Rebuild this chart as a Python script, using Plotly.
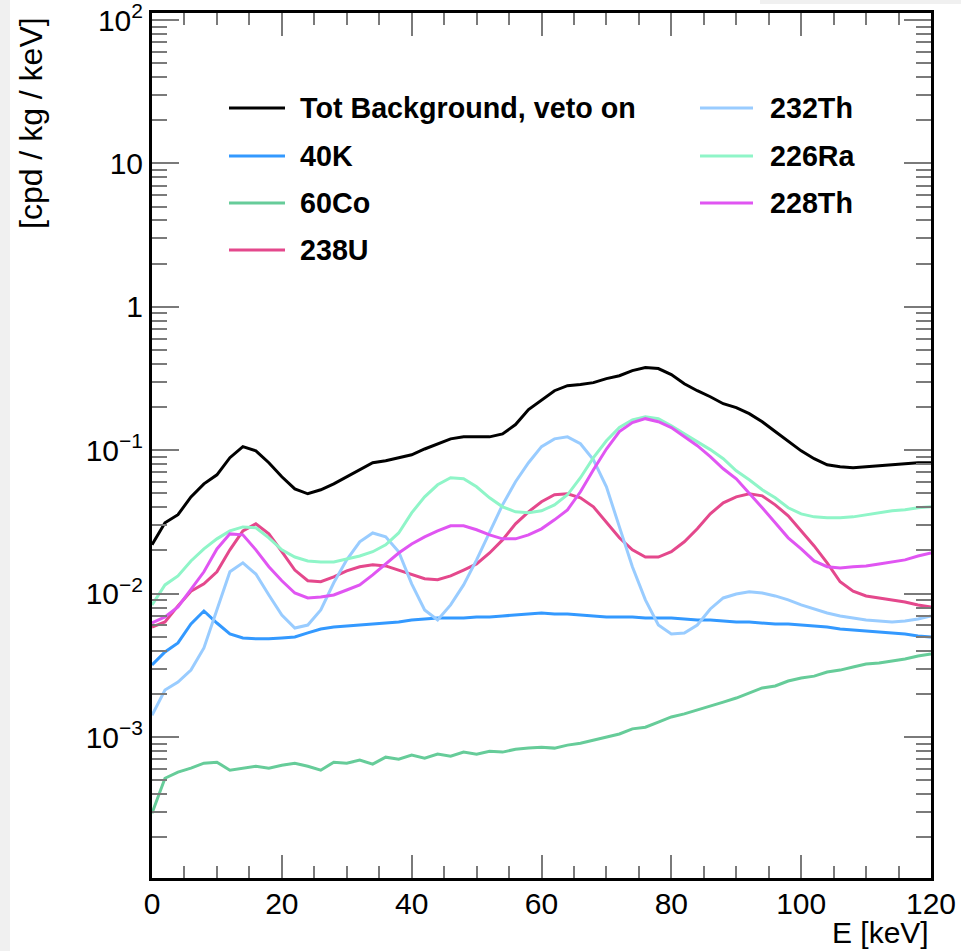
import plotly.graph_objects as go

# ---------------- data ----------------
energy_keV = [0, 2, 4, 6, 8, 10, 12, 14, 16, 18, 20, 22, 24, 26, 28, 30, 32, 34, 36, 38,
              40, 42, 44, 46, 48, 50, 52, 54, 56, 58, 60, 62, 64, 66, 68, 70, 72, 74, 76, 78,
              80, 82, 84, 86, 88, 90, 92, 94, 96, 98, 100, 102, 104, 106, 108, 110, 112, 114,
              116, 118, 120]

tot_bkg = [0.0219, 0.0312, 0.0355, 0.0473, 0.0583, 0.0674, 0.0887, 0.106, 0.099, 0.0818,
           0.0653, 0.0538, 0.0497, 0.053, 0.0583, 0.0653, 0.0731, 0.0818, 0.0845, 0.0887,
           0.093, 0.102, 0.111, 0.120, 0.124, 0.124, 0.124, 0.130, 0.151, 0.192,
           0.222, 0.260, 0.282, 0.287, 0.296, 0.316, 0.331, 0.359, 0.377, 0.371,
           0.337, 0.291, 0.260, 0.236, 0.211, 0.198, 0.180, 0.158, 0.135, 0.115,
           0.099, 0.0873, 0.0792, 0.0767, 0.0755, 0.0767, 0.078, 0.0792, 0.0806, 0.0818,
           0.0818]

k40 = [0.00318, 0.00392, 0.00453, 0.00614, 0.00757, 0.00624, 0.00523, 0.00491, 0.00484, 0.00484,
       0.00491, 0.00499, 0.00532, 0.00567, 0.00585, 0.00594, 0.00604, 0.00614, 0.00624, 0.00634,
       0.00655, 0.00666, 0.00676, 0.00676, 0.00676, 0.00688, 0.00688, 0.00699, 0.0071, 0.00722,
       0.00733, 0.00722, 0.00722, 0.0071, 0.00699, 0.00688, 0.00688, 0.00688, 0.00676, 0.00676,
       0.00676, 0.00666, 0.00655, 0.00655, 0.00645, 0.00634, 0.00634, 0.00624, 0.00614, 0.00614,
       0.00604, 0.00594, 0.00585, 0.00567, 0.00558, 0.00549, 0.0054, 0.00532, 0.00523, 0.00507,
       0.00499]

co60 = [0.000294, 0.000516, 0.000569, 0.000607, 0.000657, 0.000668, 0.000587, 0.000607, 0.000626, 0.000607,
        0.000636, 0.000657, 0.000626, 0.000587, 0.000668, 0.000657, 0.00069, 0.000647, 0.000724, 0.000701,
        0.000748, 0.000712, 0.00076, 0.000736, 0.000785, 0.00076, 0.000797, 0.000785, 0.000823, 0.000837,
        0.00085, 0.000837, 0.000878, 0.000906, 0.000951, 0.001, 0.00105, 0.00114, 0.00117, 0.00127,
        0.00138, 0.00145, 0.00154, 0.00164, 0.00175, 0.00187, 0.00203, 0.0022, 0.00227, 0.00246,
        0.00258, 0.00266, 0.00284, 0.00293, 0.00308, 0.00323, 0.00328, 0.00339, 0.0035, 0.00367,
        0.00379]

u238 = [0.00585, 0.00634, 0.00821, 0.0104, 0.0117, 0.0142, 0.0202, 0.0274, 0.0307, 0.0261,
        0.0196, 0.0146, 0.0123, 0.0121, 0.0131, 0.0144, 0.0154, 0.0159, 0.0156, 0.0146,
        0.0135, 0.0127, 0.0125, 0.0133, 0.0146, 0.0161, 0.0192, 0.0237, 0.0307, 0.0372,
        0.0437, 0.0489, 0.0497, 0.0466, 0.0403, 0.0317, 0.0245, 0.0202, 0.018, 0.018,
        0.0196, 0.023, 0.0283, 0.036, 0.043, 0.0473, 0.0497, 0.0481, 0.0416, 0.0349,
        0.0274, 0.0215, 0.0164, 0.0121, 0.0104, 0.00964, 0.00933, 0.00904, 0.00875, 0.00834,
        0.00807]

th232 = [0.00142, 0.00213, 0.00242, 0.00293, 0.00418, 0.00769, 0.0142, 0.0164, 0.0137, 0.00979,
         0.0071, 0.00576, 0.00604, 0.00769, 0.0119, 0.0172, 0.023, 0.0265, 0.0249, 0.0196,
         0.0117, 0.00769, 0.00655, 0.00834, 0.0115, 0.0172, 0.027, 0.0416, 0.0603, 0.0818,
         0.106, 0.120, 0.124, 0.111, 0.0858, 0.0556, 0.0292, 0.0154, 0.00904, 0.00604,
         0.00523, 0.00532, 0.00604, 0.00782, 0.00933, 0.00995, 0.0103, 0.0101, 0.00964, 0.00904,
         0.00834, 0.00782, 0.00733, 0.00699, 0.00676, 0.00655, 0.00645, 0.00634, 0.00645, 0.00666,
         0.00699]

ra226 = [0.00834, 0.0115, 0.0133, 0.0169, 0.0205, 0.0241, 0.0274, 0.0292, 0.0288, 0.0245,
         0.0202, 0.018, 0.0169, 0.0166, 0.0166, 0.0175, 0.0183, 0.0196, 0.0219, 0.0265,
         0.0366, 0.0473, 0.0574, 0.0643, 0.0632, 0.0556, 0.0466, 0.0403, 0.0372, 0.0366,
         0.0378, 0.0416, 0.0489, 0.0643, 0.0887, 0.1165, 0.144, 0.163, 0.171, 0.166,
         0.148, 0.130, 0.115, 0.101, 0.0873, 0.0719, 0.0622, 0.053, 0.0466, 0.0397,
         0.036, 0.0343, 0.0338, 0.0338, 0.0343, 0.0355, 0.0366, 0.0378, 0.0384, 0.0397,
         0.0403]

th228 = [0.00624, 0.00688, 0.00807, 0.0108, 0.0142, 0.0205, 0.0261, 0.0257, 0.0202, 0.0154,
         0.0123, 0.0101, 0.00933, 0.00948, 0.00979, 0.0106, 0.0115, 0.0135, 0.0161, 0.0192,
         0.0222, 0.0249, 0.0274, 0.0297, 0.0297, 0.0279, 0.0257, 0.0241, 0.0241, 0.0257,
         0.0283, 0.0327, 0.0384, 0.0513, 0.0731, 0.102, 0.135, 0.156, 0.166, 0.158,
         0.144, 0.124, 0.1075, 0.0901, 0.0743, 0.0632, 0.0505, 0.0397, 0.0312, 0.0245,
         0.0205, 0.0169, 0.0154, 0.0151, 0.0154, 0.0156, 0.0161, 0.0166, 0.0172, 0.0183,
         0.0192]

series_names = ["Tot Background, veto on", "40K", "60Co", "238U", "232Th", "226Ra", "228Th"]
series_values = [tot_bkg, k40, co60, u238, th232, ra226, th228]
series_colors = ["#000000", "#3399ff", "#66cc99", "#e4488c", "#99ccff", "#8ff5c8", "#e055f2"]

x_tick_vals = [0, 20, 40, 60, 80, 100, 120]
x_tick_text = ["0", "20", "40", "60", "80", "100", "120"]
y_tick_vals = [100, 10, 1, 0.1, 0.01, 0.001]
y_tick_text = ["10<sup>2</sup>", "10", "1", "10<sup>\u22121</sup>", "10<sup>\u22122</sup>", "10<sup>\u22123</sup>"]

# ---------------- layout geometry (pixels) ----------------
W, H = 961, 951
L, R, T, B = 152, 30, 13, 73
PW, PH = W - L - R, H - T - B
Y_RANGE = [-3.983, 2.049]


def px_x(px):
    return (px - L) / PW


def px_y(py):
    return (H - B - py) / PH


FONT = "Liberation Sans, Arial, Helvetica, sans-serif"

fig = go.Figure()
for name, vals, col in zip(series_names, series_values, series_colors):
    fig.add_trace(go.Scatter(x=energy_keV, y=vals, mode="lines", name=name,
                             line=dict(color=col, width=3), showlegend=False))

minor_y = []
for e in range(-4, 2):
    for k in range(2, 10):
        v = k * 10.0 ** e
        if 10 ** Y_RANGE[0] <= v <= 10 ** Y_RANGE[1]:
            minor_y.append(v)

tick_gray = "#7a7a7a"
fig.update_layout(
    width=W, height=H,
    margin=dict(l=L, r=R, t=T, b=B, pad=0, autoexpand=False),
    paper_bgcolor="white", plot_bgcolor="white",
    font=dict(family=FONT, color="black"),
    xaxis=dict(range=[0, 120], showgrid=False, zeroline=False, automargin=False,
               showline=True, linecolor="black", linewidth=3, mirror="ticks",
               ticks="inside", ticklen=23, tickwidth=2, tickcolor=tick_gray,
               tickmode="array", tickvals=x_tick_vals, ticktext=x_tick_text,
               tickfont=dict(size=30, family=FONT), ticklabelstandoff=-3,
               ticklabeloverflow="allow",
               minor=dict(ticks="inside", ticklen=12, tickwidth=2, tickcolor=tick_gray,
                          dtick=5, tick0=0, showgrid=False)),
    yaxis=dict(type="log", range=Y_RANGE, showgrid=False, zeroline=False, automargin=False,
               showline=True, linecolor="black", linewidth=3, mirror="ticks",
               ticks="inside", ticklen=27, tickwidth=2, tickcolor=tick_gray,
               tickmode="array", tickvals=y_tick_vals, ticktext=y_tick_text,
               tickfont=dict(size=30, family=FONT), ticklabeloverflow="allow",
               minor=dict(ticks="inside", ticklen=15, tickwidth=2, tickcolor=tick_gray,
                          tickmode="array", tickvals=minor_y, showgrid=False)),
)

shapes = []
annotations = []
# page background strips seen at the edges of the reference
shapes.append(dict(type="rect", xref="paper", yref="paper", layer="below",
                   x0=px_x(0), x1=px_x(10), y0=px_y(H), y1=px_y(0),
                   fillcolor="#f0f0f0", line=dict(width=0)))
shapes.append(dict(type="rect", xref="paper", yref="paper", layer="below",
                   x0=px_x(760), x1=px_x(W), y0=px_y(4), y1=px_y(0),
                   fillcolor="#f0f0f0", line=dict(width=0)))

# manual two-column legend
legend_pos = [(229, 285, 298, 108), (229, 285, 298, 156), (229, 285, 298, 203), (229, 285, 298, 250),
              (700, 753, 768, 108), (700, 753, 768, 156), (700, 753, 768, 203)]
for (lx0, lx1, tx, ly), name, col in zip(legend_pos, series_names, series_colors):
    shapes.append(dict(type="line", xref="paper", yref="paper",
                       x0=px_x(lx0), x1=px_x(lx1), y0=px_y(ly), y1=px_y(ly),
                       line=dict(color=col, width=3)))
    annotations.append(dict(xref="paper", yref="paper", x=px_x(tx), y=px_y(ly),
                            xanchor="left", yanchor="middle", showarrow=False,
                            text="<b>" + name + "</b>",
                            font=dict(size=28.7, family=FONT, color="black")))

# axis titles
annotations.append(dict(xref="paper", yref="paper", x=1.0, y=px_y(933),
                        xanchor="right", yanchor="middle", showarrow=False,
                        text="E [keV]", font=dict(size=30, family=FONT, color="black")))
annotations.append(dict(xref="paper", yref="paper", x=px_x(31), y=px_y(15),
                        xanchor="center", yanchor="top", showarrow=False, textangle=-90,
                        text="[cpd / kg / keV]", font=dict(size=32, family=FONT, color="black")))

fig.update_layout(shapes=shapes, annotations=annotations)
fig.write_html("out.html")
